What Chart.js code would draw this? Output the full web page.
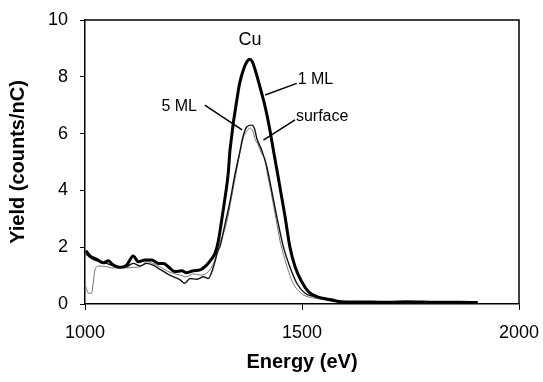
<!DOCTYPE html>
<html>
<head>
<meta charset="utf-8">
<script src="https://cdn.jsdelivr.net/npm/chart.js@4/dist/chart.umd.min.js"></script>
<style>
  html, body { margin: 0; padding: 0; background: #fff; }
</style>
</head>
<body>
<canvas id="chart" width="543" height="382"></canvas>
<script>
// 1 ML (thick line)
const ml1Energy = [1002, 1012, 1027, 1042, 1054, 1061, 1069, 1081, 1096, 1111, 1123, 1138, 1154, 1169, 1181, 1192, 1207, 1223, 1234, 1250, 1265, 1280, 1290, 1300, 1307, 1315, 1323, 1330, 1334, 1338, 1342, 1346, 1350, 1356, 1365, 1372, 1379, 1385, 1392, 1403, 1415, 1426, 1434, 1445, 1453, 1461, 1472, 1484, 1499, 1515, 1534, 1560, 1575, 1590, 1620, 1660, 1700, 1740, 1780, 1820, 1860, 1905];
const ml1Yield  = [1.88, 1.69, 1.57, 1.45, 1.52, 1.43, 1.34, 1.29, 1.37, 1.69, 1.49, 1.55, 1.55, 1.43, 1.43, 1.31, 1.14, 1.17, 1.10, 1.17, 1.20, 1.37, 1.55, 1.80, 2.20, 2.96, 3.78, 4.60, 5.40, 5.90, 6.40, 6.80, 7.20, 7.75, 8.25, 8.50, 8.62, 8.55, 8.25, 7.65, 6.95, 6.13, 5.42, 4.48, 3.78, 3.07, 2.02, 1.31, 0.79, 0.43, 0.26, 0.17, 0.12, 0.08, 0.07, 0.07, 0.06, 0.08, 0.07, 0.06, 0.06, 0.05];

// 5 ML (medium line)
const ml5Energy = [1002, 1019, 1035, 1050, 1065, 1081, 1096, 1111, 1127, 1142, 1157, 1173, 1188, 1203, 1219, 1230, 1242, 1257, 1273, 1284, 1296, 1307, 1311, 1323, 1334, 1346, 1356, 1363, 1373, 1384, 1390, 1396, 1407, 1419, 1430, 1442, 1457, 1472, 1488, 1507, 1530, 1560, 1590, 1640, 1700, 1760, 1820, 1900];
const ml5Yield  = [1.76, 1.57, 1.49, 1.43, 1.34, 1.29, 1.31, 1.43, 1.34, 1.43, 1.37, 1.22, 1.08, 0.96, 0.85, 0.73, 0.90, 0.87, 0.96, 0.90, 1.31, 1.90, 2.02, 2.84, 3.60, 4.60, 5.30, 5.83, 6.24, 6.30, 6.20, 5.83, 5.42, 4.83, 4.00, 3.07, 2.02, 1.31, 0.73, 0.38, 0.26, 0.15, 0.08, 0.06, 0.05, 0.06, 0.05, 0.05];

// surface (thin grey line)
const surfEnergy = [1002, 1008, 1015, 1023, 1031, 1050, 1065, 1081, 1096, 1111, 1127, 1142, 1157, 1173, 1188, 1203, 1219, 1234, 1250, 1265, 1280, 1296, 1311, 1326, 1338, 1348, 1358, 1366, 1374, 1380, 1386, 1392, 1399, 1407, 1415, 1420, 1428, 1440, 1449, 1458, 1468, 1476, 1484, 1493, 1503, 1515, 1530, 1560, 1590, 1650, 1720, 1800, 1880];
const surfYield  = [0.61, 0.38, 0.38, 1.20, 1.34, 1.31, 1.27, 1.27, 1.27, 1.29, 1.31, 1.49, 1.43, 1.31, 1.17, 1.08, 1.02, 0.96, 1.06, 1.02, 1.08, 1.43, 2.14, 2.84, 3.78, 4.60, 5.40, 5.90, 6.10, 6.20, 6.10, 5.80, 5.60, 5.30, 5.07, 4.60, 4.00, 3.00, 2.25, 1.70, 1.20, 0.85, 0.61, 0.45, 0.32, 0.25, 0.20, 0.12, 0.06, 0.05, 0.05, 0.04, 0.04];

// axis ticks
const xTicks = [1000, 1500, 2000];
const yTicks = [0, 2, 4, 6, 8, 10];

// text labels and leader lines, in data units
const notes = [
  { text: 'Cu', x: 1380, y: 9.3, align: 'center' },
  { text: '1 ML', x: 1490, y: 7.9, align: 'left' },
  { text: '5 ML', x: 1258, y: 6.95, align: 'right' },
  { text: 'surface', x: 1486, y: 6.6, align: 'left' }
];
const leaders = [
  [1488, 7.77, 1415, 7.36],
  [1276, 7.0, 1362, 6.13],
  [1484, 6.48, 1411, 5.77]
];

const toPoints = (xs, ys) => xs.map((x, i) => ({ x, y: ys[i] }));

// frame + annotations
const extras = {
  id: 'extras',
  afterDatasetsDraw(chart) {
    const { ctx, chartArea: a, scales: { x, y } } = chart;
    ctx.save();
    ctx.strokeStyle = '#000';
    ctx.lineWidth = 1.5;
    ctx.beginPath();
    ctx.moveTo(a.left, a.top);
    ctx.lineTo(a.right, a.top);
    ctx.lineTo(a.right, a.bottom);
    ctx.stroke();

    leaders.forEach(l => {
      ctx.beginPath();
      ctx.moveTo(x.getPixelForValue(l[0]), y.getPixelForValue(l[1]));
      ctx.lineTo(x.getPixelForValue(l[2]), y.getPixelForValue(l[3]));
      ctx.stroke();
    });

    ctx.fillStyle = '#000';
    ctx.textBaseline = 'middle';
    notes.forEach(n => {
      ctx.font = (n.text === 'Cu' ? '18px' : '16px') + ' "Liberation Sans", Arial, sans-serif';
      ctx.textAlign = n.align;
      ctx.fillText(n.text, x.getPixelForValue(n.x), y.getPixelForValue(n.y));
    });
    ctx.restore();
  }
};

const tickFont = { family: '"Liberation Sans", Arial, sans-serif', size: 18 };
const titleFont = { family: '"Liberation Sans", Arial, sans-serif', size: 20, weight: 'bold' };

new Chart(document.getElementById('chart'), {
  type: 'line',
  data: {
    datasets: [
      { label: '1 ML', data: toPoints(ml1Energy, ml1Yield), borderColor: '#000', borderWidth: 3 },
      { label: '5 ML', data: toPoints(ml5Energy, ml5Yield), borderColor: '#111', borderWidth: 1.4 },
      { label: 'surface', data: toPoints(surfEnergy, surfYield), borderColor: '#777', borderWidth: 1 }
    ]
  },
  options: {
    responsive: false,
    animation: false,
    devicePixelRatio: 1,
    layout: { padding: { top: 20, right: 24, left: 0, bottom: 0 } },
    elements: {
      point: { radius: 0 },
      line: { cubicInterpolationMode: 'monotone', fill: false }
    },
    plugins: { legend: { display: false }, tooltip: { enabled: false } },
    scales: {
      x: {
        type: 'linear',
        min: 1000,
        max: 2000,
        afterBuildTicks: s => { s.ticks = xTicks.map(v => ({ value: v })); },
        afterFit: s => { s.height = 78; s.paddingLeft = 0; s.paddingRight = 0; },
        grid: { drawOnChartArea: false, drawTicks: true, tickLength: 6, color: '#000', lineWidth: 1 },
        border: { display: true, color: '#000', width: 1.5 },
        ticks: { font: tickFont, color: '#000', padding: 12, maxRotation: 0, callback: v => String(v) },
        title: { display: true, text: 'Energy (eV)', font: titleFont, color: '#000', padding: { top: 0, bottom: 8 } }
      },
      y: {
        min: 0,
        max: 10,
        afterBuildTicks: s => { s.ticks = yTicks.map(v => ({ value: v })); },
        afterFit: s => { s.width = 85; s.paddingTop = 0; s.paddingBottom = 0; },
        grid: { drawOnChartArea: false, drawTicks: true, tickLength: 5, color: '#000', lineWidth: 1 },
        border: { display: true, color: '#000', width: 1.5 },
        ticks: { font: tickFont, color: '#000', padding: 12, callback: v => String(v) },
        title: { display: true, text: 'Yield (counts/nC)', font: titleFont, color: '#000', padding: { top: 6, bottom: 0 } }
      }
    }
  },
  plugins: [extras]
});
</script>
</body>
</html>
